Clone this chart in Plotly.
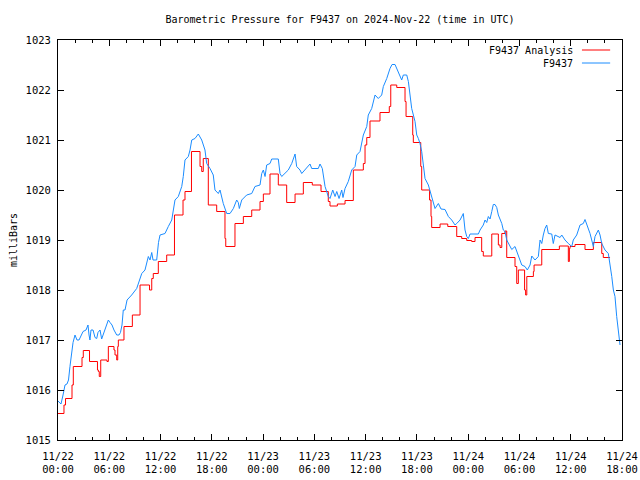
import pandas as pd
import plotly.graph_objects as go

BASE = pd.Timestamp("2024-11-22 00:00")

# F9437 observed (hours after BASE, mb)
obs_hours = [0.0, 0.35, 0.59, 0.82, 1.05, 1.23, 1.40, 1.60, 1.76, 1.99, 2.22, 2.46, 2.69, 2.93, 3.28, 3.51, 3.63, 3.74, 3.86, 4.10,
             4.33, 4.53, 4.68, 4.92, 5.11, 5.27, 5.50, 5.73, 5.89, 6.09, 6.32, 6.55, 6.87, 7.14, 7.31, 7.49, 7.64, 7.84, 8.08, 8.62,
             9.21, 9.80, 10.18, 10.57, 10.77, 10.97, 11.12, 11.55, 11.76, 11.94, 12.52, 12.91, 13.31, 13.69, 14.08, 14.48, 14.66, 14.86, 15.25, 15.45,
             15.65, 16.03, 16.42, 16.82, 17.20, 17.40, 17.79, 18.17, 18.37, 18.76, 18.96, 19.34, 19.74, 20.13, 20.52, 20.91, 21.10, 21.22, 21.50, 22.08,
             22.67, 23.05, 23.64, 23.84, 24.03, 24.23, 24.42, 24.81, 25.01, 25.78, 25.98, 26.18, 26.57, 26.95, 27.35, 27.74, 27.93, 28.32, 28.52, 28.91,
             29.49, 29.69, 30.46, 30.66, 30.93, 31.25, 31.63, 31.83, 32.15, 32.42, 32.62, 32.89, 33.20, 33.35, 33.59, 33.97, 34.37, 34.76, 34.96, 35.34,
             35.73, 36.13, 36.31, 36.71, 37.10, 37.48, 37.88, 38.07, 38.47, 38.85, 39.09, 39.44, 39.64, 40.02, 40.22, 40.41, 40.81, 41.00, 41.19, 41.39,
             41.78, 41.98, 42.17, 42.36, 42.56, 42.75, 42.95, 43.34, 43.73, 43.92, 44.12, 44.51, 44.82, 45.29, 45.68, 46.07, 46.46, 46.66, 47.05, 47.43,
             47.63, 47.83, 48.02, 48.22, 49.19, 49.39, 49.77, 49.97, 50.17, 50.36, 50.56, 50.76, 50.94, 51.14, 51.34, 51.53, 51.93, 52.11, 52.31, 52.51,
             52.90, 53.10, 53.48, 53.87, 54.27, 54.65, 54.92, 55.24, 55.44, 55.82, 56.21, 56.41, 56.61, 56.79, 56.99, 57.19, 57.38, 57.78, 57.96, 58.16,
             58.75, 58.95, 59.33, 59.72, 59.92, 60.12, 60.30, 60.70, 61.09, 61.47, 61.67, 62.06, 62.26, 62.65, 62.84, 63.23, 63.43, 63.63, 64.01, 64.40,
             64.60, 64.80, 64.99, 65.18, 65.38, 65.57, 65.65, 65.77]
obs_mb = [1015.78, 1015.72, 1015.90, 1016.10, 1016.12, 1016.20, 1016.47, 1016.80, 1016.95, 1017.10, 1017.00, 1017.00, 1017.10, 1017.17, 1017.20, 1017.30, 1017.10, 1017.00, 1017.20, 1017.20,
          1017.05, 1017.03, 1017.15, 1017.20, 1017.02, 1017.10, 1017.17, 1017.30, 1017.40, 1017.35, 1017.30, 1017.20, 1017.10, 1017.10, 1017.15, 1017.30, 1017.60, 1017.60, 1017.80, 1017.90,
          1018.03, 1018.33, 1018.40, 1018.67, 1018.60, 1018.75, 1018.60, 1018.60, 1018.95, 1019.10, 1019.13, 1019.27, 1019.40, 1019.80, 1019.87, 1020.07, 1020.27, 1020.60, 1020.67, 1020.80,
          1021.00, 1021.03, 1021.12, 1021.00, 1020.80, 1020.53, 1020.43, 1020.30, 1020.00, 1019.93, 1020.00, 1019.73, 1019.53, 1019.53, 1019.63, 1019.80, 1019.75, 1019.63, 1019.80, 1019.90,
          1019.93, 1020.07, 1020.10, 1020.33, 1020.40, 1020.27, 1020.50, 1020.53, 1020.62, 1020.62, 1020.33, 1020.27, 1020.33, 1020.40, 1020.53, 1020.72, 1020.47, 1020.40, 1020.33, 1020.40,
          1020.52, 1020.43, 1020.43, 1020.52, 1020.43, 1020.07, 1019.87, 1019.83, 1020.00, 1019.87, 1019.97, 1019.83, 1020.00, 1019.85, 1020.03, 1020.17, 1020.40, 1020.47, 1020.70, 1020.77,
          1021.10, 1021.27, 1021.50, 1021.63, 1021.90, 1021.83, 1021.90, 1022.07, 1022.23, 1022.43, 1022.51, 1022.51, 1022.43, 1022.30, 1022.20, 1022.30, 1022.30, 1022.17, 1021.90, 1021.63,
          1021.37, 1021.10, 1021.03, 1020.93, 1020.77, 1020.43, 1020.23, 1020.10, 1019.87, 1019.73, 1019.63, 1019.73, 1019.62, 1019.61, 1019.47, 1019.40, 1019.30, 1019.33, 1019.40, 1019.53,
          1019.20, 1019.07, 1019.03, 1019.12, 1019.12, 1019.20, 1019.30, 1019.40, 1019.35, 1019.47, 1019.42, 1019.57, 1019.71, 1019.71, 1019.65, 1019.50, 1019.33, 1019.20, 1019.17, 1019.00,
          1018.87, 1018.81, 1018.87, 1018.67, 1018.50, 1018.47, 1018.40, 1018.50, 1018.68, 1018.60, 1018.67, 1019.00, 1018.93, 1019.10, 1019.23, 1019.30, 1019.13, 1019.12, 1018.93, 1019.10,
          1019.05, 1019.10, 1019.00, 1018.93, 1018.90, 1018.87, 1019.00, 1019.10, 1019.30, 1019.33, 1019.41, 1019.20, 1019.13, 1018.87, 1019.07, 1019.20, 1019.10, 1018.93, 1018.80, 1018.73,
          1018.53, 1018.27, 1018.00, 1017.87, 1017.47, 1017.20, 1016.97, 1016.90]

# F9437 Analysis (hours after BASE, mb) - stepped
ana_hours = [0.00, 0.70, 0.88, 1.64, 1.79, 2.81, 2.96, 3.69, 4.62, 4.72, 4.83, 5.00, 5.73, 5.89, 6.55, 6.67, 6.87, 6.99, 7.06, 7.72,
             8.70, 9.60, 10.71, 10.97, 11.15, 11.74, 12.72, 13.63, 14.63, 14.86, 15.62, 16.62, 16.82, 17.00, 17.59, 18.57, 19.54, 19.63, 20.71, 21.69,
             22.67, 23.64, 24.03, 24.81, 25.78, 26.76, 27.74, 28.71, 29.76, 30.78, 31.63, 31.83, 32.69, 33.59, 34.56, 35.73, 35.93, 36.13, 36.51, 37.68,
             38.77, 38.94, 39.64, 40.61, 40.73, 41.51, 41.58, 42.45, 42.56, 43.48, 43.65, 43.73, 44.71, 45.61, 46.66, 47.24, 47.83, 48.41, 48.80, 49.58,
             49.77, 50.76, 51.53, 51.73, 51.93, 52.31, 52.51, 53.48, 53.68, 53.87, 54.60, 54.72, 54.86, 55.63, 55.71, 56.61, 58.67, 59.72, 59.84, 59.92,
             60.50, 61.67, 62.65, 63.63, 63.81, 64.60]
ana_mb = [1015.53, 1015.70, 1015.83, 1016.10, 1016.47, 1016.65, 1016.79, 1016.57, 1016.40, 1016.37, 1016.27, 1016.60, 1016.57, 1016.87, 1016.80, 1016.70, 1016.60, 1016.87, 1017.00, 1017.27,
          1017.50, 1018.10, 1018.00, 1018.23, 1018.33, 1018.57, 1018.70, 1019.50, 1019.80, 1019.97, 1020.77, 1020.47, 1020.37, 1020.63, 1019.70, 1019.57, 1019.03, 1018.87, 1019.33, 1019.47,
          1019.60, 1019.77, 1019.92, 1020.32, 1020.10, 1019.75, 1019.92, 1020.15, 1020.10, 1019.97, 1019.77, 1019.68, 1019.72, 1019.79, 1020.40, 1020.53, 1020.90, 1021.05, 1021.38, 1021.55,
          1021.67, 1022.10, 1022.05, 1021.77, 1021.47, 1021.10, 1020.95, 1020.47, 1020.00, 1019.80, 1019.47, 1019.25, 1019.32, 1019.27, 1019.07, 1019.03, 1018.99, 1018.97, 1019.05, 1018.77,
          1018.68, 1019.12, 1018.90, 1018.85, 1019.13, 1019.18, 1018.65, 1018.47, 1018.13, 1018.40, 1018.00, 1017.90, 1018.27, 1018.37, 1018.50, 1018.81, 1018.88, 1018.57, 1018.83, 1018.87,
          1018.91, 1018.81, 1018.95, 1018.73, 1018.65, 1018.65]

tick_hours = [0, 6, 12, 18, 24, 30, 36, 42, 48, 54, 60, 66]
tick_labels = ["11/22<br>00:00", "11/22<br>06:00", "11/22<br>12:00", "11/22<br>18:00",
               "11/23<br>00:00", "11/23<br>06:00", "11/23<br>12:00", "11/23<br>18:00",
               "11/24<br>00:00", "11/24<br>06:00", "11/24<br>12:00", "11/24<br>18:00"]

RED = "#ff0000"
BLUE = "#1a8cff"
FONT = "DejaVu Sans Mono"

def to_time(hours):
    return [BASE + pd.Timedelta(hours=h) for h in hours]

fig = go.Figure()
fig.add_trace(go.Scatter(x=to_time(ana_hours), y=ana_mb, mode="lines", line=dict(color=RED, width=1, shape="hv"),
                         name="F9437 Analysis", showlegend=False))
fig.add_trace(go.Scatter(x=to_time(obs_hours), y=obs_mb, mode="lines", line=dict(color=BLUE, width=1),
                         name="F9437", showlegend=False))

# legend drawn gnuplot style (text then sample line)
for yy, txt, col in [(0.975, "F9437 Analysis", RED), (0.9425, "F9437", BLUE)]:
    fig.add_annotation(x=0.917, y=yy, xref="paper", yref="paper", text=txt, showarrow=False,
                       xanchor="right", yanchor="middle", font=dict(family=FONT, size=10, color="black"))
    fig.add_shape(type="line", xref="paper", yref="paper", x0=0.929, x1=0.979, y0=yy, y1=yy,
                  line=dict(color=col, width=1))

fig.update_layout(
    width=640, height=480,
    margin=dict(l=58, r=18, t=40, b=40, autoexpand=False),
    paper_bgcolor="white", plot_bgcolor="white",
    font=dict(family=FONT, size=10.5, color="black"),
    title=dict(text="Barometric Pressure for F9437 on 2024-Nov-22 (time in UTC)", x=0.5, xanchor="center",
               xref="paper", y=1 - 19 / 480, yref="container", yanchor="middle", font=dict(family=FONT, size=10)),
    showlegend=False,
)
fig.update_xaxes(
    range=[BASE, BASE + pd.Timedelta(hours=66)],
    tickvals=to_time(tick_hours), ticktext=tick_labels,
    ticks="inside", ticklen=6, tickcolor="black", ticklabelstandoff=6,
    minor=dict(ticks="inside", ticklen=3, tickcolor="black", dtick=2 * 3600 * 1000, showgrid=False),
    showline=True, linecolor="black", linewidth=1, mirror="allticks",
    showgrid=False, zeroline=False, automargin=False, tickfont=dict(family=FONT, size=10.5),
)
fig.update_yaxes(
    range=[1015, 1023], dtick=1, tick0=1015,
    ticks="inside", ticklen=6, tickcolor="black", ticklabelstandoff=4,
    showline=True, linecolor="black", linewidth=1, mirror="allticks",
    showgrid=False, zeroline=False, automargin=False, tickfont=dict(family=FONT, size=10.5),
    title=dict(text="milliBars", font=dict(family=FONT, size=10), standoff=6),
)

fig.write_html("out.html", config={"displayModeBar": False},
               post_script="document.body.style.margin='0';")
